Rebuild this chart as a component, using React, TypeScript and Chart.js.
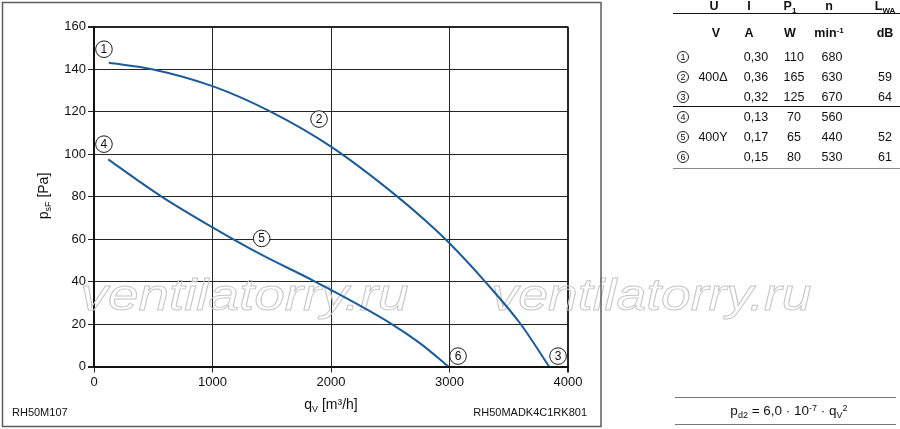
import React, { useEffect, useRef } from "react";
import { Chart, registerables } from "chart.js";

Chart.register(...registerables);

const FONT = '"Liberation Sans", Arial, Helvetica, sans-serif';

// Characteristic ①–②–③ (400 V Δ): q_V [m³/h] / p_sF [Pa]
const flowDelta = [125, 490, 1000, 1490, 2000, 2560, 2810, 3000, 3300, 3600, 3840];
const pressureDelta = [143, 140, 132, 120, 103.5, 80, 68, 58, 40, 20, 0];

// Characteristic ④–⑤–⑥ (400 V Y)
const flowStar = [120, 360, 570, 1000, 1400, 1865, 2512, 2750, 2990];
const pressureStar = [97.5, 88, 80, 65.5, 53, 40, 20, 11, 0];

// Axis ticks
const xTickValues = [0, 1000, 2000, 3000, 4000];
const yTickValues = [0, 20, 40, 60, 80, 100, 120, 140, 160];

// Operating point markers on the curves (data units)
const markerIds = ["1", "2", "3", "4", "5", "6"];
const markerFlow = [84, 1899, 3916, 84, 1415, 3072];
const markerPressure = [149.4, 116.5, 4.9, 104.7, 60.3, 4.9];

// Table data
const rowIds = ["1", "2", "3", "4", "5", "6"];
const voltage = ["", "400Δ", "", "", "400Y", ""];
const current = ["0,30", "0,36", "0,32", "0,13", "0,17", "0,15"];
const power = ["110", "165", "125", "70", "65", "80"];
const speed = ["680", "630", "670", "560", "440", "530"];
const noise = ["", "59", "64", "", "52", "61"];

const WATERMARK = "ventilatorry.ru";
const LEFT_CODE = "RH50M107";
const RIGHT_CODE = "RH50MADK4C1RK801";

const CURVE_COLOR = "#1c5b99";
const GRID_COLOR = "#262626";

type Part = { text: string; size: number; dy?: number };

function drawRich(ctx: CanvasRenderingContext2D, parts: Part[], x: number, y: number, align: "left" | "center") {
  let total = 0;
  const widths = parts.map((p) => {
    ctx.font = `${p.size}px ${FONT}`;
    const w = ctx.measureText(p.text).width;
    total += w;
    return w;
  });
  let cx = align === "center" ? x - total / 2 : x;
  ctx.textAlign = "left";
  ctx.textBaseline = "alphabetic";
  parts.forEach((p, i) => {
    ctx.font = `${p.size}px ${FONT}`;
    ctx.fillText(p.text, cx, y + (p.dy || 0));
    cx += widths[i];
  });
}

function drawWatermark(ctx: CanvasRenderingContext2D, left: number, right: number, baseline: number) {
  ctx.save();
  ctx.font = `italic 44px ${FONT}`;
  const m = ctx.measureText(WATERMARK);
  const bl = m.actualBoundingBoxLeft;
  const br = m.actualBoundingBoxRight;
  const sx = (right - left) / (bl + br);
  ctx.translate(left + bl * sx, baseline);
  ctx.scale(sx, 1);
  ctx.lineWidth = 0.9;
  ctx.strokeStyle = "#c6c6c6";
  ctx.textAlign = "left";
  ctx.textBaseline = "alphabetic";
  ctx.strokeText(WATERMARK, 0, 0);
  ctx.restore();
}

const decorPlugin = {
  id: "decor",
  beforeDatasetsDraw(chart: any) {
    const ctx: CanvasRenderingContext2D = chart.ctx;
    drawWatermark(ctx, 83, 408, 310);
    drawWatermark(ctx, 494, 811, 310);
  },
  afterDraw(chart: any) {
    const ctx: CanvasRenderingContext2D = chart.ctx;
    const xs = chart.scales.x;
    const ys = chart.scales.y;
    ctx.save();
    // markers
    markerIds.forEach((id, i) => {
      const cx = xs.getPixelForValue(markerFlow[i]);
      const cy = ys.getPixelForValue(markerPressure[i]);
      ctx.beginPath();
      ctx.arc(cx, cy, 8.3, 0, Math.PI * 2);
      ctx.fillStyle = "#ffffff";
      ctx.fill();
      ctx.lineWidth = 1;
      ctx.strokeStyle = "#1a1a1a";
      ctx.stroke();
      ctx.fillStyle = "#111";
      ctx.font = `12px ${FONT}`;
      ctx.textAlign = "center";
      ctx.textBaseline = "middle";
      ctx.fillText(id, cx, cy + 0.5);
    });
    // axis titles
    ctx.fillStyle = "#111";
    drawRich(
      ctx,
      [
        { text: "q", size: 14 },
        { text: "V", size: 9, dy: 3 },
        { text: " [m³/h]", size: 14 },
      ],
      331,
      409,
      "center"
    );
    ctx.save();
    ctx.translate(48, 196);
    ctx.rotate(-Math.PI / 2);
    drawRich(
      ctx,
      [
        { text: "p", size: 14 },
        { text: "sF", size: 9, dy: 3 },
        { text: " [Pa]", size: 14 },
      ],
      0,
      0,
      "center"
    );
    ctx.restore();
    // codes
    ctx.font = `11px ${FONT}`;
    ctx.textBaseline = "middle";
    ctx.textAlign = "left";
    ctx.fillText(LEFT_CODE, 12, 413);
    ctx.textAlign = "right";
    ctx.fillText(RIGHT_CODE, 587, 413);
    // outer frame
    ctx.lineWidth = 1.5;
    ctx.strokeStyle = "#5c5c5c";
    ctx.strokeRect(2.5, 2.5, 598.5, 424);
    ctx.restore();
  },
};

const cellBase: React.CSSProperties = {
  position: "absolute",
  height: 16,
  lineHeight: "16px",
  textAlign: "center",
  whiteSpace: "nowrap",
  fontSize: 12.5,
  color: "#111",
};

function Cell({ x, y, bold, children, w = 50 }: { x: number; y: number; bold?: boolean; children: React.ReactNode; w?: number }) {
  return (
    <div style={{ ...cellBase, left: x - w / 2, top: y - 8, width: w, fontWeight: bold ? "bold" : "normal" }}>
      {children}
    </div>
  );
}

function Circ({ n, x, y }: { n: string; x: number; y: number }) {
  return (
    <div
      style={{
        position: "absolute",
        left: x - 6,
        top: y - 6,
        width: 12,
        height: 12,
        border: "1px solid #222",
        borderRadius: "50%",
        boxSizing: "border-box",
        fontSize: 9,
        lineHeight: "10px",
        textAlign: "center",
        color: "#111",
      }}
    >
      {n}
    </div>
  );
}

const Sub = ({ children, size = 8 }: { children: React.ReactNode; size?: number }) => (
  <span style={{ fontSize: size, position: "relative", top: 3 }}>{children}</span>
);
const Sup = ({ children, size = 8 }: { children: React.ReactNode; size?: number }) => (
  <span style={{ fontSize: size, position: "relative", top: -4 }}>{children}</span>
);

export default function App() {
  const canvasRef = useRef<HTMLCanvasElement | null>(null);

  useEffect(() => {
    const canvas = canvasRef.current;
    if (!canvas) return;
    const chart = new Chart(canvas, {
      type: "scatter",
      data: {
        datasets: [
          {
            data: flowDelta.map((q, i) => ({ x: q, y: pressureDelta[i] })),
            showLine: true,
            borderColor: CURVE_COLOR,
            borderWidth: 2,
            pointRadius: 0,
            cubicInterpolationMode: "monotone",
          },
          {
            data: flowStar.map((q, i) => ({ x: q, y: pressureStar[i] })),
            showLine: true,
            borderColor: CURVE_COLOR,
            borderWidth: 2,
            pointRadius: 0,
            cubicInterpolationMode: "monotone",
          },
        ],
      },
      options: {
        responsive: false,
        animation: false,
        layout: { padding: { left: 0, right: 332, top: 26.7, bottom: 0 } },
        plugins: { legend: { display: false }, tooltip: { enabled: false } },
        scales: {
          x: {
            type: "linear",
            min: 0,
            max: 4000,
            afterBuildTicks: (s: any) => {
              s.ticks = xTickValues.map((v) => ({ value: v }));
            },
            afterFit: (s: any) => {
              s.height = 62.5;
            },
            ticks: {
              font: { family: FONT, size: 13 },
              color: "#111",
              padding: 2,
              maxRotation: 0,
              callback: (v: any) => String(v),
            },
            grid: {
              color: GRID_COLOR,
              tickColor: GRID_COLOR,
              tickLength: 6,
              lineWidth: (c: any) => (c.tick && c.tick.value === 4000 ? 2 : 1),
            },
            border: { color: "#111", width: 2 },
          },
          y: {
            type: "linear",
            min: 0,
            max: 160,
            afterBuildTicks: (s: any) => {
              s.ticks = yTickValues.map((v) => ({ value: v }));
            },
            afterFit: (s: any) => {
              s.width = 94;
            },
            ticks: { font: { family: FONT, size: 13 }, color: "#111", padding: 2, callback: (v: any) => String(v) },
            grid: {
              color: GRID_COLOR,
              tickColor: GRID_COLOR,
              tickLength: 6,
              lineWidth: (c: any) => (c.tick && (c.tick.value === 160 || c.tick.value === 0) ? 2 : 1),
            },
            border: { color: "#111", width: 2 },
          },
        },
      },
      plugins: [decorPlugin],
    } as any);
    return () => chart.destroy();
  }, []);

  const rowY = [57, 77, 97, 117, 137, 156.5];
  const colU = 714;
  const colIh = 749;
  const colI = 756;
  const colPh = 790;
  const colP = 794;
  const colNh = 829;
  const colN = 832;
  const colL = 885;

  return (
    <div
      style={{
        position: "absolute",
        left: 0,
        top: 0,
        width: 900,
        height: 429,
        overflow: "hidden",
        background: "#fff",
        fontFamily: FONT,
      }}
    >
      <canvas ref={canvasRef} width={900} height={429} style={{ position: "absolute", left: 0, top: 0 }} />
      {/* table */}
      <Cell x={colU} y={5.5} bold>U</Cell>
      <Cell x={colIh} y={5.5} bold>I</Cell>
      <Cell x={colPh} y={5.5} bold>
        P<Sub size={8}>1</Sub>
      </Cell>
      <Cell x={colNh} y={5.5} bold>n</Cell>
      <Cell x={colL} y={5.5} bold>
        L<Sub size={8}>WA</Sub>
      </Cell>
      <div style={{ position: "absolute", left: 673, top: 13, width: 227, height: 1, background: "#111" }} />
      <Cell x={colU + 2} y={32.5} bold>V</Cell>
      <Cell x={colIh} y={32.5} bold>A</Cell>
      <Cell x={colPh} y={32.5} bold>W</Cell>
      <Cell x={colNh} y={32.5} bold>
        min<Sup size={8}>-1</Sup>
      </Cell>
      <Cell x={colL} y={32.5} bold>dB</Cell>
      {rowIds.map((id, i) => (
        <React.Fragment key={id}>
          <Circ n={id} x={683} y={rowY[i]} />
          {voltage[i] ? <Cell x={colU - 1} y={rowY[i]}>{voltage[i]}</Cell> : null}
          <Cell x={colI} y={rowY[i]}>{current[i]}</Cell>
          <Cell x={colP} y={rowY[i]}>{power[i]}</Cell>
          <Cell x={colN} y={rowY[i]}>{speed[i]}</Cell>
          {noise[i] ? <Cell x={colL} y={rowY[i]}>{noise[i]}</Cell> : null}
        </React.Fragment>
      ))}
      <div style={{ position: "absolute", left: 673, top: 106, width: 227, height: 1, background: "#111" }} />
      <div style={{ position: "absolute", left: 673, top: 167.5, width: 227, height: 1, background: "#888" }} />
      {/* formula */}
      <div style={{ position: "absolute", left: 675, top: 396.5, width: 221, height: 1, background: "#777" }} />
      <div
        style={{
          position: "absolute",
          left: 675,
          top: 403,
          width: 228,
          height: 16,
          lineHeight: "16px",
          fontSize: 13.5,
          textAlign: "center",
          whiteSpace: "nowrap",
          color: "#111",
        }}
      >
        p<Sub size={9}>d2</Sub> = 6,0 · 10<Sup size={9}>-7</Sup> · q<Sub size={9}>V</Sub>
        <Sup size={9}>2</Sup>
      </div>
      <div style={{ position: "absolute", left: 675, top: 424, width: 221, height: 1, background: "#777" }} />
    </div>
  );
}
